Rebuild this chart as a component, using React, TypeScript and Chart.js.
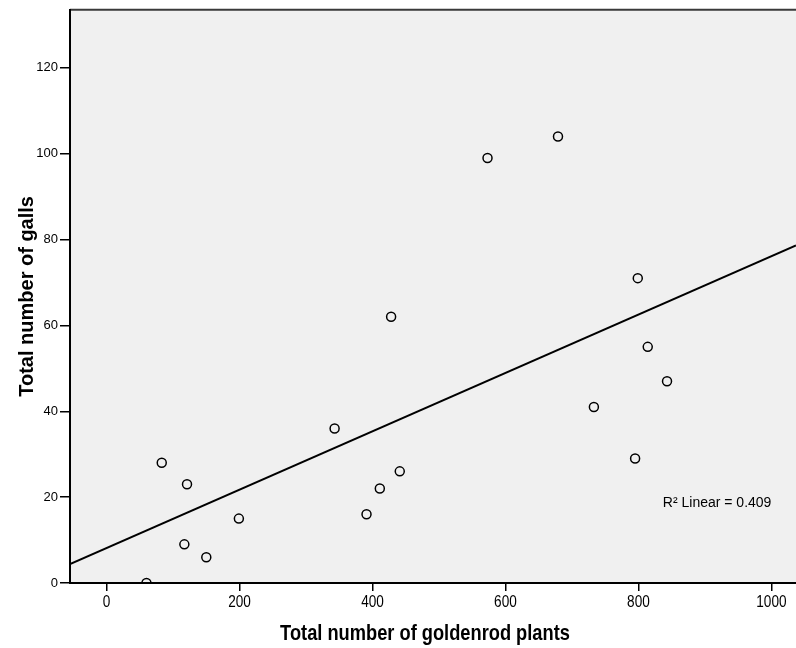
import React, { useEffect, useRef } from "react";
import { Chart, registerables } from "chart.js";

Chart.register(...registerables);

// ---- data ----
const goldenrodPlants = [60, 83, 121, 117, 150, 199, 343, 391, 411, 428, 441, 573, 679, 733, 795, 799, 814, 843];
const galls = [0, 28, 23, 9, 6, 15, 36, 16, 22, 62, 26, 99, 104, 41, 29, 71, 55, 47];
const xTickValues = [0, 200, 400, 600, 800, 1000];
const yTickValues = [0, 20, 40, 60, 80, 100, 120];
const xRange = [-55, 1037];
const yRange = [0, 133.5];
const xTitle = "Total number of goldenrod plants";
const yTitle = "Total number of galls";
const fitLabel = "R² Linear = 0.409";

const SANS = "'Liberation Sans', Arial, sans-serif";

function linearFit(xs: number[], ys: number[]) {
  const n = xs.length;
  const mx = xs.reduce((a, b) => a + b, 0) / n;
  const my = ys.reduce((a, b) => a + b, 0) / n;
  let sxy = 0;
  let sxx = 0;
  for (let i = 0; i < n; i++) {
    sxy += (xs[i] - mx) * (ys[i] - my);
    sxx += (xs[i] - mx) * (xs[i] - mx);
  }
  const slope = sxy / sxx;
  return { slope, intercept: my - slope * mx };
}

export default function App() {
  const ref = useRef<HTMLCanvasElement>(null);

  useEffect(() => {
    document.body.style.margin = "0";
    const canvas = ref.current;
    if (!canvas) return;
    const fit = linearFit(goldenrodPlants, galls);
    const points = goldenrodPlants.map((x, i) => ({ x, y: galls[i] }));
    const fitLine = xRange.map((x) => ({ x, y: fit.intercept + fit.slope * x }));

    const framePlugin = {
      id: "frame",
      beforeDraw(chart: any) {
        const { ctx, chartArea: a } = chart;
        ctx.save();
        ctx.fillStyle = "#F0F0F0";
        ctx.fillRect(a.left, a.top, a.right - a.left, a.bottom - a.top);
        ctx.strokeStyle = "#3a3a3a";
        ctx.lineWidth = 2;
        ctx.beginPath();
        ctx.moveTo(a.left, a.top);
        ctx.lineTo(a.right, a.top);
        ctx.stroke();
        ctx.restore();
      },
      afterDraw(chart: any) {
        const { ctx, scales, chartArea: a } = chart;
        const xs = scales.x;
        ctx.save();
        ctx.fillStyle = "#000";
        // fit annotation
        ctx.font = `14px ${SANS}`;
        ctx.textAlign = "right";
        ctx.textBaseline = "middle";
        ctx.fillText(fitLabel, xs.getPixelForValue(1000), scales.y.getPixelForValue(18.5));
        // condensed x tick labels
        ctx.font = `17px ${SANS}`;
        ctx.textAlign = "center";
        for (const t of xs.ticks) {
          ctx.save();
          ctx.translate(xs.getPixelForValue(t.value), a.bottom + 19);
          ctx.scale(0.8, 1);
          ctx.fillText(String(t.value), 0, 0);
          ctx.restore();
        }
        // condensed x title
        ctx.font = `bold 22px ${SANS}`;
        ctx.save();
        ctx.translate((a.left + a.right) / 2 - 8, a.bottom + 51);
        ctx.scale(0.83, 1);
        ctx.fillText(xTitle, 0, 0);
        ctx.restore();
        ctx.restore();
      },
    };

    const chart = new Chart(canvas, {
      type: "scatter",
      data: {
        datasets: [
          {
            type: "scatter",
            data: points,
            pointStyle: "circle",
            pointRadius: 4.5,
            pointBorderWidth: 1.5,
            borderColor: "#000",
            backgroundColor: "rgba(0,0,0,0)",
            order: 1,
          },
          {
            type: "line",
            data: fitLine,
            borderColor: "#000",
            borderWidth: 2,
            pointRadius: 0,
            fill: false,
            order: 2,
          } as any,
        ],
      },
      options: {
        animation: false,
        responsive: false,
        devicePixelRatio: 1,
        layout: { autoPadding: false, padding: { top: 8, left: 0, right: 0, bottom: 0 } },
        plugins: { legend: { display: false }, tooltip: { enabled: false } },
        scales: {
          x: {
            type: "linear",
            min: xRange[0],
            max: xRange[1],
            afterBuildTicks: (s: any) => {
              s.ticks = xTickValues.map((value) => ({ value }));
            },
            afterFit: (s: any) => {
              s.height = 65;
              s.paddingLeft = 0;
              s.paddingRight = 0;
            },
            border: { display: true, color: "#000", width: 2 },
            grid: { drawOnChartArea: false, drawTicks: true, tickLength: 8, color: "#000", lineWidth: 1.5 },
            ticks: { display: false },
            title: { display: false },
          },
          y: {
            type: "linear",
            min: yRange[0],
            max: yRange[1],
            afterBuildTicks: (s: any) => {
              s.ticks = yTickValues.map((value) => ({ value }));
            },
            afterFit: (s: any) => {
              s.width = 70;
            },
            border: { display: true, color: "#000", width: 2 },
            grid: { drawOnChartArea: false, drawTicks: true, tickLength: 10, color: "#000", lineWidth: 1.5 },
            ticks: { color: "#000", font: { family: SANS, size: 13 }, padding: 2 },
            title: {
              display: true,
              text: yTitle,
              color: "#000",
              font: { family: SANS, size: 20, weight: "bold" },
              padding: { top: 15, bottom: 0 },
            },
          },
        },
      },
      plugins: [framePlugin],
    } as any);

    return () => chart.destroy();
  }, []);

  return (
    <div style={{ width: 796, height: 648 }}>
      <canvas ref={ref} width={796} height={648} style={{ display: "block" }} />
    </div>
  );
}
